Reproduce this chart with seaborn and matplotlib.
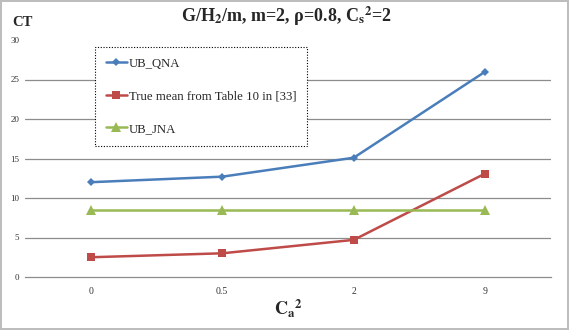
import seaborn as sns
import matplotlib.pyplot as plt
import pandas as pd

# data
ca2 = ["0", "0.5", "2", "9"]
ub_qna = [12.0, 12.7, 15.1, 26.0]
true_mean = [2.5, 3.0, 4.7, 13.1]
ub_jna = [8.5, 8.5, 8.5, 8.5]
names = ["UB_QNA", "True mean from Table 10 in [33]", "UB_JNA"]

df = pd.DataFrame({
    "ca2": ca2 * 3,
    "ct": ub_qna + true_mean + ub_jna,
    "series": [names[0]] * 4 + [names[1]] * 4 + [names[2]] * 4,
})

sns.set_style("white")
plt.rcParams["font.family"] = ["Liberation Serif", "DejaVu Serif"]

fig = plt.figure(figsize=(5.69, 3.30), dpi=100)
fig.patch.set_edgecolor("#bdbdbd")
fig.patch.set_linewidth(1.5)
ax = fig.add_axes([25 / 569, 1 - 277 / 330, 526 / 569, 237 / 330])

colors = {names[0]: "#4a7ebb", names[1]: "#be4b48", names[2]: "#98b954"}
markers = {names[0]: "D", names[1]: "s", names[2]: "^"}
sizes = {names[0]: 4.5, names[1]: 6, names[2]: 7}

for name in names:
    sub = df[df["series"] == name]
    sns.lineplot(data=sub, x="ca2", y="ct", color=colors[name], marker=markers[name],
                 markersize=sizes[name], markeredgewidth=0, linewidth=1.8,
                 label=name, ax=ax, sort=False)

ax.set_xlim(-0.5, 3.5)
ax.set_ylim(0, 30)
ax.set_yticks(range(0, 31, 5))
for y in range(5, 30, 5):
    ax.axhline(y, color="#8c8c8c", linewidth=0.9, zorder=0)

for s in ["top", "right", "left"]:
    ax.spines[s].set_visible(False)
ax.spines["bottom"].set_color("#8c8c8c")
ax.spines["bottom"].set_linewidth(0.9)

ax.set_xticks([-0.5, 0.5, 1.5, 2.5, 3.5], minor=True)
ax.tick_params(axis="x", which="minor", length=4, color="#8c8c8c", width=0.9)
ax.tick_params(axis="x", which="major", length=0, labelsize=7, pad=7, labelcolor="#333333")
ax.tick_params(axis="y", length=0, labelsize=6.5, pad=4, labelcolor="#333333")

ax.set_xlabel("")
ax.set_ylabel("")
fig.text(288 / 569, 1 - 309 / 330, r"$\mathbf{C_a}^\mathbf{2}$", ha="center", va="center",
         fontsize=13, fontweight="bold", math_fontfamily="stix")
fig.text(12 / 569, 1 - 22 / 330, "CT", ha="left", va="center", fontsize=10.5, fontweight="bold")
fig.text(286 / 569, 1 - 16 / 330,
         r"G/H$_\mathbf{2}$/m, m=2, ρ=0.8, C$_\mathbf{s}$$^\mathbf{2}$=2",
         ha="center", va="center", fontsize=13, fontweight="bold", math_fontfamily="stix")

leg = ax.legend(loc="upper left", bbox_to_anchor=(70 / 526, 1 - 7 / 237), fontsize=9.2,
                frameon=True, fancybox=False, framealpha=1, labelspacing=1.6,
                handlelength=1.65, handletextpad=0.15, borderpad=0.85, borderaxespad=0)
frame = leg.get_frame()
frame.set_edgecolor("black")
frame.set_linestyle((0, (1, 1.5)))
frame.set_linewidth(0.8)

fig.savefig("out.png", dpi=100)
